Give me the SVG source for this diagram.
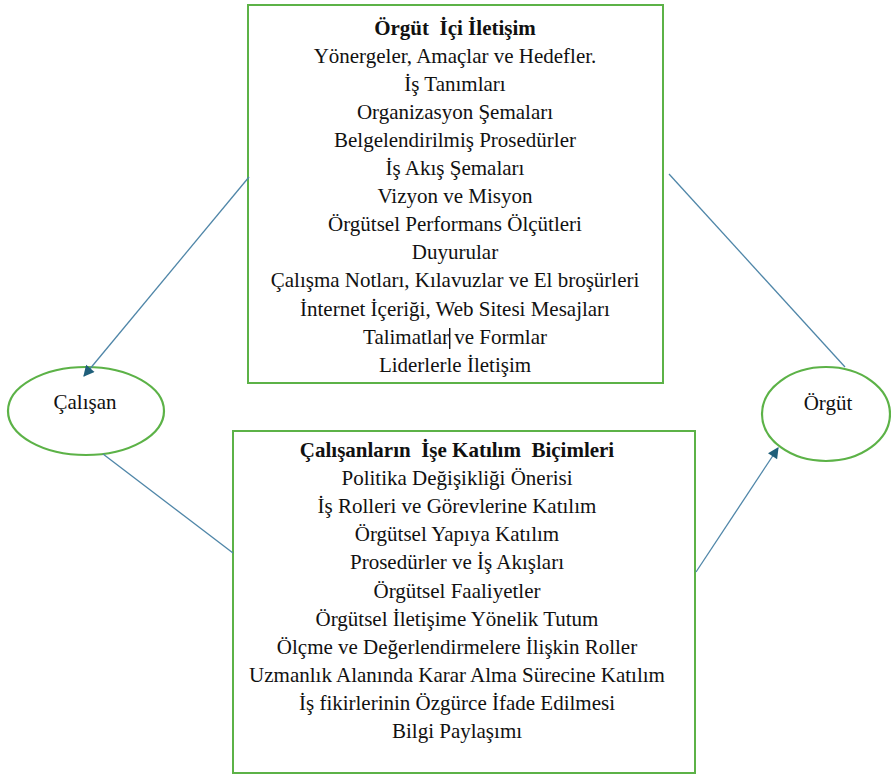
<svg xmlns="http://www.w3.org/2000/svg" width="891" height="776" viewBox="0 0 891 776">
<defs>
<marker id="ah" viewBox="0 0 10 10" refX="9" refY="5" markerWidth="13" markerHeight="11" markerUnits="userSpaceOnUse" orient="auto">
<path d="M0,0 L10,5 L0,10 Z" fill="#1f5f7a"/>
</marker>
</defs>
<g id="top-box" fill="#111" text-anchor="middle" font-family="Liberation Serif, Times New Roman, serif" font-size="21">
<rect x="248" y="5" width="415" height="378" fill="#fff" stroke="#5cb247" stroke-width="2"/>
<text font-family="Liberation Serif" font-weight="bold" x="455" y="34.5">Örgüt&#160; İçi İletişim</text>
<text font-family="Liberation Serif" x="455" y="62.6">Yönergeler, Amaçlar ve Hedefler.</text>
<text font-family="Liberation Serif" x="455" y="90.7">İş Tanımları</text>
<text font-family="Liberation Serif" x="455" y="118.8">Organizasyon Şemaları</text>
<text font-family="Liberation Serif" x="455" y="146.9">Belgelendirilmiş Prosedürler</text>
<text font-family="Liberation Serif" x="455" y="175">İş Akış Şemaları</text>
<text font-family="Liberation Serif" x="455" y="203.1">Vizyon ve Misyon</text>
<text font-family="Liberation Serif" x="455" y="231.2">Örgütsel Performans Ölçütleri</text>
<text font-family="Liberation Serif" x="455" y="259.3">Duyurular</text>
<text font-family="Liberation Serif" x="455" y="287.4">Çalışma Notları, Kılavuzlar ve El broşürleri</text>
<text font-family="Liberation Serif" x="455" y="315.5">İnternet İçeriği, Web Sitesi Mesajları</text>
<text font-family="Liberation Serif" x="455" y="343.6">Talimatlar ve Formlar</text>
<rect x="449" y="328" width="1.4" height="21" fill="#111"/>
<text font-family="Liberation Serif" x="455" y="371.7">Liderlerle İletişim</text>
</g>
<g id="bottom-box" fill="#111" text-anchor="middle" font-family="Liberation Serif, Times New Roman, serif" font-size="21">
<rect x="233" y="431" width="462" height="342" fill="#fff" stroke="#5cb247" stroke-width="2"/>
<text font-family="Liberation Serif" font-weight="bold" x="457" y="457">Çalışanların&#160; İşe Katılım&#160; Biçimleri</text>
<text font-family="Liberation Serif" x="457" y="485.1">Politika Değişikliği Önerisi</text>
<text font-family="Liberation Serif" x="457" y="513.2">İş Rolleri ve Görevlerine Katılım</text>
<text font-family="Liberation Serif" x="457" y="541.3">Örgütsel Yapıya Katılım</text>
<text font-family="Liberation Serif" x="457" y="569.4">Prosedürler ve İş Akışları</text>
<text font-family="Liberation Serif" x="457" y="597.5">Örgütsel Faaliyetler</text>
<text font-family="Liberation Serif" x="457" y="625.6">Örgütsel İletişime Yönelik Tutum</text>
<text font-family="Liberation Serif" x="457" y="653.7">Ölçme ve Değerlendirmelere İlişkin Roller</text>
<text font-family="Liberation Serif" x="457" y="681.8">Uzmanlık Alanında Karar Alma Sürecine Katılım</text>
<text font-family="Liberation Serif" x="457" y="709.9">İş fikirlerinin Özgürce İfade Edilmesi</text>
<text font-family="Liberation Serif" x="457" y="738">Bilgi Paylaşımı</text>
</g>
<g id="calisan" fill="#111" text-anchor="middle" font-family="Liberation Serif, Times New Roman, serif" font-size="21">
<ellipse cx="86" cy="411" rx="78" ry="44" fill="#fff" stroke="#5cb247" stroke-width="2.2"/>
<text font-family="Liberation Serif" x="85" y="409">Çalışan</text>
</g>
<g id="orgut" fill="#111" text-anchor="middle" font-family="Liberation Serif, Times New Roman, serif" font-size="21">
<ellipse cx="826" cy="414" rx="64" ry="47" fill="#fff" stroke="#5cb247" stroke-width="2.2"/>
<text font-family="Liberation Serif" x="828" y="410">Örgüt</text>
</g>
<g id="connectors" stroke="#4f86a8" stroke-width="1.3" fill="none">
<line x1="249" y1="177" x2="84" y2="376" marker-end="url(#ah)"/>
<line x1="103" y1="454" x2="233" y2="553"/>
<line x1="669" y1="174" x2="845" y2="367"/>
<line x1="696" y1="572" x2="778" y2="448" marker-end="url(#ah)"/>
</g>
</svg>
